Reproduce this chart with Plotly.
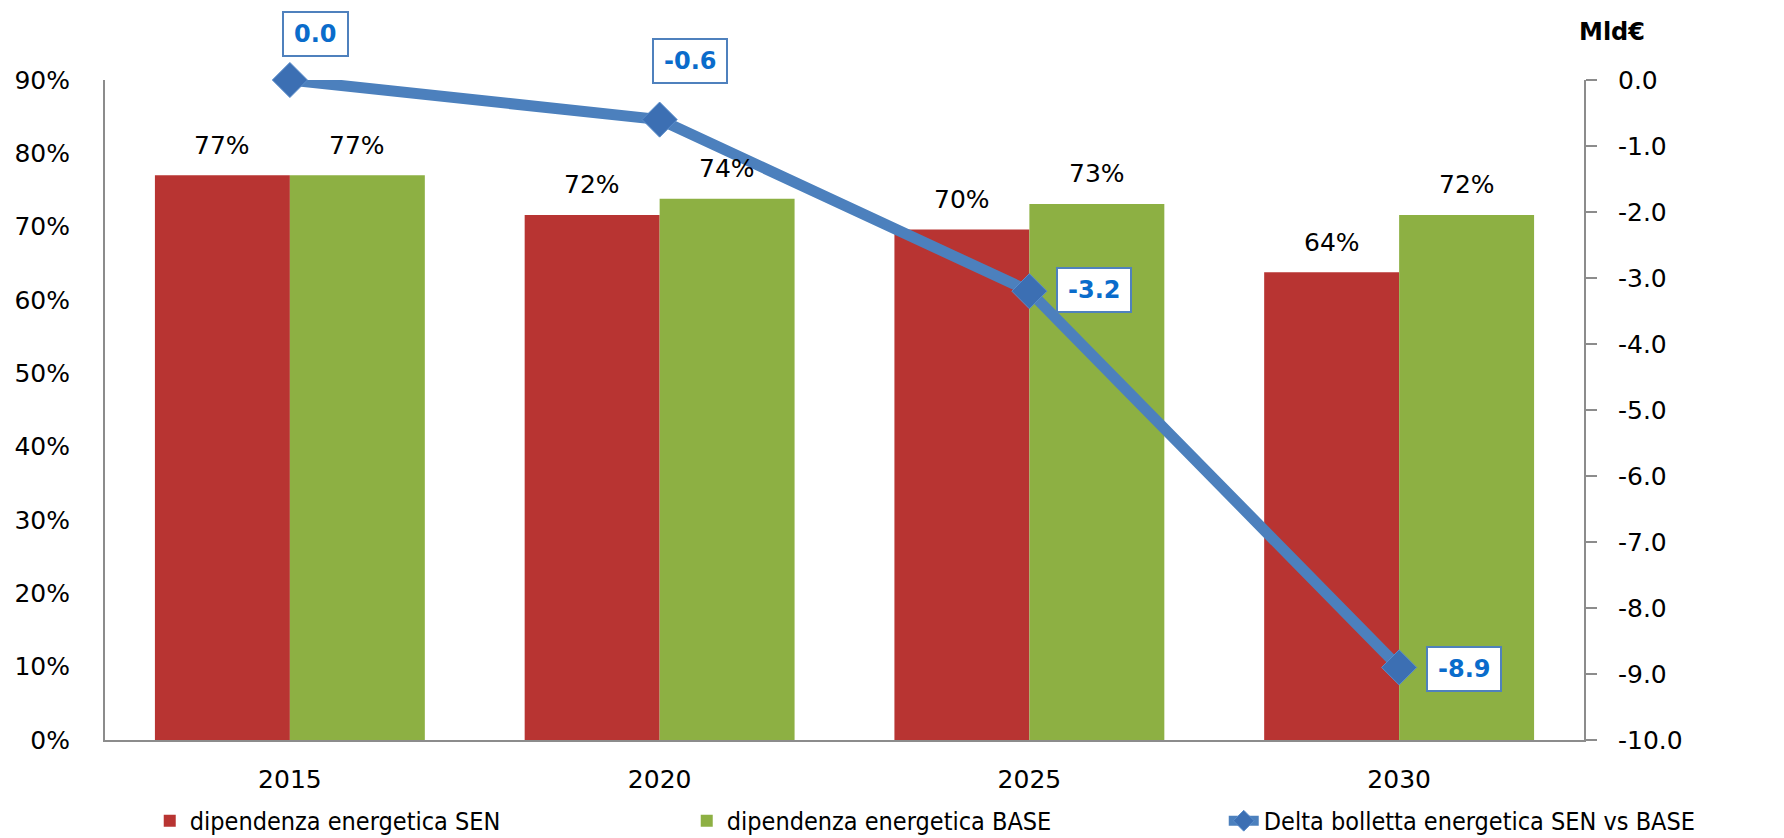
import plotly.graph_objects as go

years = ["2015", "2020", "2025", "2030"]
sen = [77.0, 71.6, 69.6, 63.8]
base = [77.0, 73.8, 73.1, 71.6]
delta = [0.0, -0.6, -3.2, -8.9]
y2_ticks = [0, -1, -2, -3, -4, -5, -6, -7, -8, -9, -10]
y2_labels = ["0.0", "-1.0", "-2.0", "-3.0", "-4.0", "-5.0", "-6.0", "-7.0", "-8.0", "-9.0", "-10.0"]

names = ["dipendenza energetica SEN", "dipendenza energetica BASE", "Delta bolletta energetica SEN vs BASE"]

TICK_FONT = dict(family="DejaVu Sans, Verdana, sans-serif", size=25, color="#000000")
AX_COL = "#8C8C8C"

fig = go.Figure()
fig.add_trace(go.Bar(x=years, y=sen, name=names[0], marker=dict(color="#B83432", line=dict(width=0)), yaxis="y"))
fig.add_trace(go.Bar(x=years, y=base, name=names[1], marker=dict(color="#8DB043", line=dict(width=0)), yaxis="y"))
fig.add_trace(go.Scatter(x=years, y=delta, name=names[2], yaxis="y2", mode="lines+markers", cliponaxis=False,
                         line=dict(color="#4C80BD", width=11),
                         marker=dict(symbol="diamond", size=27, color="#3C6FB3",
                                     line=dict(color="#5A8DCB", width=1))))

annotations = []
# bar value labels (category index used as position on the category axis)
for xs, vals in ((-67.5, sen), (67.5, base)):
    for i, v in enumerate(vals):
        annotations.append(dict(x=i, y=v, xref="x", yref="y", text=f"{v:.0f}%", showarrow=False,
                                xshift=xs, yshift=30, yanchor="middle", font=TICK_FONT))
# line value labels
label_offsets = [(26, 46), (30, 59), (65, 1), (65, -2)]
for i, ((dx, dy), v) in enumerate(zip(label_offsets, delta)):
    annotations.append(dict(x=i, y=v, xref="x", yref="y2", text=f"<b>{v:.1f}</b>", showarrow=False,
                            xshift=dx, yshift=dy, xanchor="center", yanchor="middle",
                            height=22, align="center", valign="middle",
                            bgcolor="#FFFFFF", bordercolor="#4F81BD", borderwidth=2, borderpad=10,
                            font=dict(family="DejaVu Sans, Verdana, sans-serif", size=24, color="#0A6CCB")))
annotations.append(dict(x=1.019, y=1.073, xref="paper", yref="paper", text="<b>Mld€</b>", showarrow=False,
                        xanchor="center", yanchor="middle",
                        font=dict(family="DejaVu Sans, Verdana, sans-serif", size=24, color="#000000")))

fig.update_layout(
    width=1784, height=838,
    margin=dict(l=105, r=200, t=80, b=98, autoexpand=False),
    paper_bgcolor="#FFFFFF", plot_bgcolor="rgba(0,0,0,0)",
    barmode="group", bargap=0.27, bargroupgap=0,
    showlegend=True,
    legend=dict(orientation="h", xref="paper", yref="paper", x=1.1195, y=-0.1227,
                xanchor="right", yanchor="middle", entrywidth=492, entrywidthmode="pixels",
                font=dict(family="Liberation Sans Narrow, DejaVu Sans Condensed, sans-serif", size=25, color="#000000"),
                bgcolor="rgba(0,0,0,0)", traceorder="normal"),
    xaxis=dict(type="category", showline=True, linecolor=AX_COL, linewidth=2, ticks="",
               tickfont=TICK_FONT, ticklabelstandoff=16, showgrid=False, zeroline=False),
    yaxis=dict(range=[0, 90], dtick=10, ticksuffix="%", showline=True, linecolor=AX_COL, linewidth=2,
               ticks="", tickfont=TICK_FONT, ticklabelstandoff=28, showgrid=False, zeroline=False),
    yaxis2=dict(overlaying="y", side="right", range=[-10, 0], tickmode="array", tickvals=y2_ticks,
                ticktext=y2_labels, ticks="outside", ticklen=11, tickwidth=2, tickcolor=AX_COL,
                showline=True, linecolor=AX_COL, linewidth=2, tickfont=TICK_FONT, ticklabelstandoff=16,
                showgrid=False, zeroline=False),
    annotations=annotations,
)

fig.write_html("out.html")
